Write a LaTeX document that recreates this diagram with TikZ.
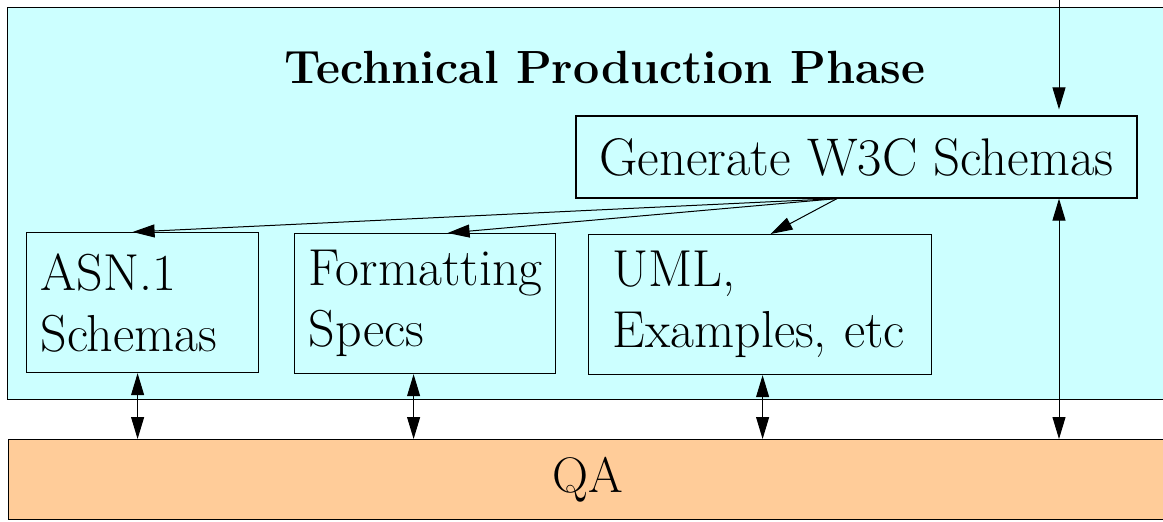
\documentclass[tikz,border=0pt]{standalone}
\usepackage{fontspec}
\usetikzlibrary{arrows.meta}
\definecolor{phasecyan}{HTML}{CCFFFF}
\definecolor{qapeach}{HTML}{FFCC99}
\tikzset{
    phasebox/.style = {rectangle,
                    fill=phasecyan,
                    draw=black,
                    line width=0.6pt,
                    anchor=north west,
                    inner sep=0pt,
                    minimum width=579.5pt,
                    minimum height=196pt},
    heading/.style = {anchor=base,
                    text=black,
                    font=\fontsize{23.3}{28}\selectfont\bfseries},
    part/.style =   {rectangle,
                    fill=phasecyan,
                    draw=black,
                    text=black,
                    line width=0.6pt,
                    anchor=north west,
                    align=left,
                    inner xsep=7pt,
                    inner ysep=0pt,
                    minimum height=70pt,
                    font=\fontsize{26}{30.5}\selectfont},
    genbox/.style = {rectangle,
                    fill=phasecyan,
                    draw=black,
                    text=black,
                    line width=0.6pt,
                    inner sep=0pt,
                    minimum width=280.5pt,
                    minimum height=41pt,
                    font=\fontsize{26.5}{30.5}\selectfont},
    qabox/.style =  {rectangle,
                    fill=qapeach,
                    draw=black,
                    text=black,
                    line width=0.6pt,
                    anchor=north west,
                    inner sep=0pt,
                    minimum width=579pt,
                    minimum height=40pt,
                    font=\fontsize{25}{30}\selectfont},
    link/.style =   {line width=0.5pt},
    >={Triangle[length=11pt,width=6.5pt]}}

\begin{document}
\begin{tikzpicture}[x=0.5pt,y=-0.5pt]
    \useasboundingbox (0,0) rectangle (1163,521);
    \clip (0,0) rectangle (1163,521);
    % production phase
    \node[phasebox]     (phase) at (7,7)        {};
    \node[heading]      (title) at (605,83)     {Technical Production Phase};
    \node[genbox]       (gen)   at (856.5,157)  {Generate W3C Schemas};
    \node[part, text width=102pt]   (asn) at (26,232)   {ASN.1\\Schemas};
    \node[part, text width=116.5pt] (fmt) at (294,233)  {Formatting\\Specs};
    \node[part, inner xsep=12pt, text width=147.5pt]
                                    (uml) at (588,234)  {UML,\\Examples,~etc};
    % quality assurance
    \node[qabox]        (qa)    at (8,439)      {QA};
    \coordinate (feed) at (1059,-10);
    \coordinate (fan) at ([xshift=-9.75pt]gen.south);
    \draw [link,->,shorten >=3pt] (feed) -- (feed |- gen.north);
    \path [link,->] (fan) edge ([xshift=-5pt]asn.north)
                    (fan) edge ([xshift=11.25pt]fmt.north)
                    (fan) edge ([xshift=5.25pt]uml.north);
    \foreach \nm/\sh in {asn/-2.5pt, fmt/-5.75pt, uml/1.25pt} {
        \coordinate (\nm foot) at ([xshift=\sh]\nm.south);
        \draw [link,<->] (\nm foot) -- (\nm foot |- qa.north);
    }
    \draw [link,<->] (feed |- gen.south) -- (feed |- qa.north);
\end{tikzpicture}
\end{document}
